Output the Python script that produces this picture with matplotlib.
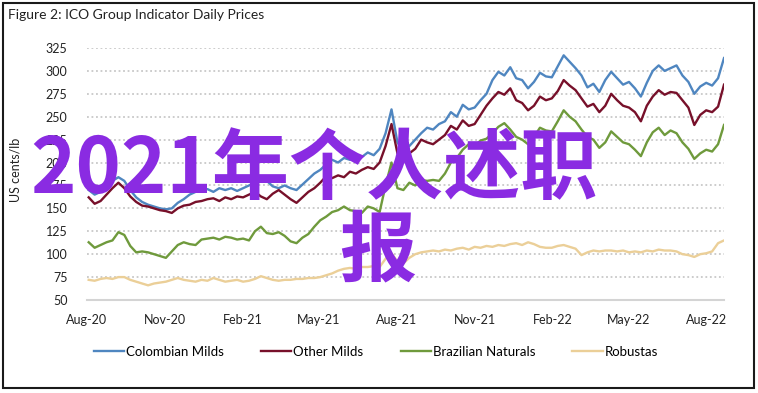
import numpy as np
import pandas as pd
import matplotlib
matplotlib.use("Agg")
import matplotlib.pyplot as plt
import matplotlib.dates as mdates
from matplotlib.patches import Rectangle

# weekly readings of the ICO group indicator prices (US cents/lb)
dates = pd.date_range("2020-08-03", periods=108, freq="W-MON")

colombian = [170, 165, 168, 175, 180, 184, 180, 170, 162, 157, 154, 152,
             150, 149, 150, 156, 160, 165, 168, 170, 171, 168, 172, 170,
             172, 169, 172, 175, 178, 182, 180, 174, 172, 175, 172, 170,
             176, 182, 188, 192, 198, 203, 200, 205, 203, 208, 206, 211,
             208, 215, 232, 258, 222, 212, 218, 225, 232, 238, 236, 242,
             245, 255, 250, 263, 258, 260, 268, 275, 290, 299, 295, 304,
             292, 290, 281, 288, 298, 294, 293, 305, 317, 310, 303, 295,
             282, 286, 277, 290, 299, 292, 285, 288, 281, 272, 287, 300,
             306, 300, 303, 306, 295, 288, 275, 283, 287, 284, 292, 314]

other_milds = [162, 155, 158, 165, 172, 178, 172, 163, 157, 153, 152, 150,
               148, 147, 145, 150, 153, 154, 157, 158, 160, 161, 158, 162,
               160, 163, 162, 165, 168, 163, 160, 166, 170, 165, 160, 156,
               162, 168, 172, 178, 185, 183, 186, 184, 190, 188, 192, 195,
               193, 200, 218, 242, 210, 203, 210, 215, 225, 222, 220, 225,
               230, 240, 236, 246, 240, 242, 252, 262, 270, 277, 274, 281,
               268, 265, 257, 262, 272, 268, 270, 278, 290, 284, 279, 270,
               261, 264, 255, 262, 275, 268, 262, 260, 255, 245, 262, 272,
               279, 274, 277, 276, 268, 260, 241, 252, 257, 255, 261, 285]

brazilian = [113, 107, 110, 113, 115, 124, 121, 109, 102, 103, 102, 100,
             98, 96, 103, 110, 113, 111, 110, 116, 117, 118, 116, 119,
             118, 116, 117, 115, 125, 130, 123, 122, 124, 120, 114, 112,
             118, 122, 130, 137, 141, 146, 148, 152, 148, 147, 145, 152,
             150, 146, 175, 200, 172, 170, 178, 175, 181, 180, 181, 180,
             188, 200, 205, 214, 220, 218, 224, 226, 232, 239, 243, 236,
             228, 225, 220, 228, 238, 235, 234, 245, 257, 250, 245, 236,
             228, 225, 216, 222, 234, 228, 222, 220, 214, 207, 222, 233,
             238, 230, 235, 232, 222, 215, 204, 210, 214, 212, 220, 241]

robustas = [72, 71, 73, 74, 73, 75, 75, 72, 70, 68, 66, 68,
            69, 70, 72, 74, 72, 71, 70, 72, 71, 74, 72, 70,
            71, 72, 70, 71, 73, 76, 74, 72, 71, 72, 72, 73,
            73, 74, 74, 75, 77, 79, 82, 84, 85, 84, 86, 86,
            87, 86, 95, 101, 92, 90, 96, 100, 102, 103, 104, 103,
            105, 104, 106, 107, 105, 108, 107, 109, 108, 110, 109, 111,
            112, 110, 113, 111, 108, 107, 107, 109, 110, 108, 106, 99,
            102, 104, 103, 104, 104, 103, 104, 102, 103, 102, 104, 103,
            105, 104, 104, 103, 100, 99, 97, 100, 101, 103, 112, 115]

series = [
    ("Colombian Milds", colombian, "#4f86c0"),
    ("Other Milds", other_milds, "#77102a"),
    ("Brazilian Naturals", brazilian, "#6f9a3c"),
    ("Robustas", robustas, "#ebcf98"),
]
yticks = [50, 75, 100, 125, 150, 175, 200, 225, 250, 275, 300, 325]

W, H = 758, 393
fig = plt.figure(figsize=(W / 100, H / 100), dpi=100)
ax = fig.add_axes([87 / W, 1 - 300 / H, (724 - 87) / W, (300 - 48) / H])

for name, vals, col in series:
    ax.plot(dates, vals, color=col, lw=1.7, label=name)

ax.set_ylim(50, 325)
ax.set_yticks(yticks)
ax.set_xlim(pd.Timestamp("2020-08-01"), dates[-1])
ax.xaxis.set_major_locator(mdates.MonthLocator(bymonth=[2, 5, 8, 11]))
ax.xaxis.set_major_formatter(mdates.DateFormatter("%b-%y"))
ax.grid(axis="y", color="#c8c8c8", ls=(0, (1, 1.5)), lw=1.3)
for s in ["top", "right", "left"]:
    ax.spines[s].set_visible(False)
ax.spines["bottom"].set_color("#d4d4d4")
ax.spines["bottom"].set_linewidth(1.5)
ax.tick_params(length=0, labelsize=9, colors="#222222", labelfontfamily="Lato")
ax.tick_params(axis="x", pad=10)
ax.tick_params(axis="y", pad=14)

fig.text(15 / W, 1 - 170 / H, "US cents/lb", rotation=90, ha="center",
         va="center", fontsize=9, family="Lato", color="#222222")
fig.text(8 / W, 1 - 15 / H, "Figure 2: ICO Group Indicator Daily Prices",
         ha="left", va="center", fontsize=10, family="Lato", color="#222222")

ax.legend(loc="center", bbox_to_anchor=(376 / W, 1 - 352 / H),
          bbox_transform=fig.transFigure, ncol=4, frameon=False,
          prop={"family": "Lato", "size": 9.5}, handlelength=2.3,
          handletextpad=0.15, columnspacing=2.8)

fig.patches.append(Rectangle((3 / W, 5 / H), 751 / W, 385 / H,
                             transform=fig.transFigure, fill=False,
                             edgecolor="#1a1a1a", lw=1.5))

# purple overlay text
cjk = ["Noto Sans CJK SC", "DejaVu Sans"]
fig.text(30 / W, 1 - 193 / H, "2021年个人述职", ha="left", va="baseline",
         fontsize=55.5, color="#8a2be2", family=cjk, weight="bold", zorder=10)
fig.text(378 / W, 1 - 274 / H, "报", ha="center", va="baseline",
         fontsize=55.5, color="#8a2be2", family=cjk, weight="bold", zorder=10)

fig.savefig("out.png", dpi=100)
